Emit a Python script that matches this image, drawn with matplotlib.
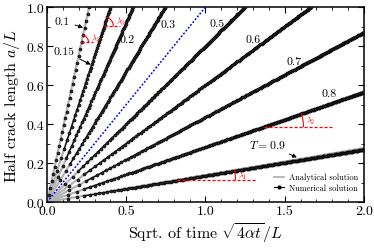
import numpy as np
import matplotlib
matplotlib.use("Agg")
import matplotlib.pyplot as plt
from matplotlib.ticker import MultipleLocator, FormatStrFormatter

plt.rcParams['font.family'] = 'serif'
plt.rcParams['font.serif'] = ['cmr10']
plt.rcParams['mathtext.fontset'] = 'cm'
plt.rcParams['axes.formatter.use_mathtext'] = True

# temperature ratios and growth slopes (a/L per sqrt(4 alpha t)/L)
T_vals = [0.1, 0.15, 0.2, 0.3, 0.5, 0.6, 0.7, 0.8, 0.9]
slope_analytical = [3.77, 2.50, 1.84, 1.34, 0.80, 0.60, 0.435, 0.282, 0.1385]
slope_numerical = [3.77, 2.50, 1.84, 1.34, 0.80, 0.60, 0.435, 0.282, 0.1345]
n_steps = [28, 40, 60, 80, 120, 150, 200, 222, 222]
blue_slope = 1.0

# label text and spot (data coords)
label_text = ['0.1', '0.15', '0.2', '0.3', '0.5', '0.6', '0.7', '0.8', '$T=0.9$']
label_xy = [(0.095, 0.928), (0.107, 0.774), (0.505, 0.836), (0.765, 0.913),
            (1.073, 0.918), (1.30, 0.836), (1.558, 0.723), (1.78, 0.559),
            (1.388, 0.297)]
arrow_tip = {0: (0.228, 0.895), 1: (0.276, 0.705), 8: (1.577, 0.229)}

# angle markers: which line, height of dashed line, dashed end, arc radius (px)
lam_names = [r'$\lambda_1$', r'$\lambda_2$', r'$\lambda_3$', r'$\lambda_4$']
lam_line = [8, 7, 1, 0]
lam_height = [0.114, 0.387, 0.903, 0.82]
lam_xend = [1.32, 1.80, 0.46, 0.29]
lam_radius = [58, 39, 9, 7]

fig = plt.figure(figsize=(3.74, 2.51), dpi=100)
ax = fig.add_axes([0.1257, 0.191, 0.8473, 0.777])
ax.set_xlim(0, 2)
ax.set_ylim(0, 1)

for i, T in enumerate(T_vals):
    xa = min(2.0, 1.0 / slope_analytical[i])
    ax.plot([0, xa], [0, slope_analytical[i] * xa], color='#b4b4b4', lw=1.6,
            solid_capstyle='butt', zorder=2)
    xn_max = min(2.0, 1.0 / slope_numerical[i])
    k = np.arange(1, n_steps[i] + 1) / n_steps[i]
    if i == 0:
        xn = xn_max * k
    else:
        xn = xn_max * np.sqrt(k)
    lw_num = 0 if i == 0 else 0.9
    ax.plot(xn[2:], slope_numerical[i] * xn[2:], color='black', lw=lw_num, zorder=3)
    ax.plot(xn, slope_numerical[i] * xn, ls='none', marker='o', ms=2.2,
            mfc='#2a2a2a', mec='black', mew=0.4, zorder=3)

ax.plot([0, 1.0 / blue_slope], [0, 1.0], color='blue', ls=(0, (1.2, 1.2)), lw=1.1, zorder=4)

for i, txt in enumerate(label_text):
    if i in arrow_tip:
        ax.annotate(txt, xy=arrow_tip[i], xytext=label_xy[i], fontsize=8.5,
                    ha='center', va='center',
                    arrowprops=dict(arrowstyle='-|>', color='black', lw=0.7,
                                    mutation_scale=6, shrinkA=2, shrinkB=0))
    else:
        ax.text(label_xy[i][0], label_xy[i][1], txt, fontsize=8.5,
                ha='center', va='center')

# red angle indicators
fig.canvas.draw()
p0 = ax.transData.transform((0, 0))
p1 = ax.transData.transform((1, 1))
sx, sy = p1[0] - p0[0], p1[1] - p0[1]
for j, name in enumerate(lam_names):
    lam = slope_analytical[lam_line[j]]
    y0 = lam_height[j]
    x0 = y0 / lam
    ax.plot([x0, lam_xend[j]], [y0, y0], color='red', ls=(0, (2.5, 1.5)), lw=0.9, zorder=5)
    ang = np.arctan(lam * sy / sx)
    phi = np.linspace(0, ang, 30)
    r = lam_radius[j]
    ax.plot(x0 + r * np.cos(phi) / sx, y0 + r * np.sin(phi) / sy, color='red', lw=0.8, zorder=5)
    ax.text(x0 + (r + 3) / sx, y0 + r * np.sin(ang / 2) / sy, name, color='red',
            fontsize=6, ha='left', va='center')

ax.plot([], [], color='#b4b4b4', lw=1.3, label='Analytical solution')
ax.plot([], [], color='black', lw=0.8, marker='o', ms=2, label='Numerical solution')
ax.legend(loc='lower right', bbox_to_anchor=(1.0, 0.02), frameon=False, fontsize=6,
          handlelength=1.2, handletextpad=0.6, labelspacing=0.3, borderpad=0.2)

ax.xaxis.set_major_locator(MultipleLocator(0.5))
ax.xaxis.set_minor_locator(MultipleLocator(0.1))
ax.yaxis.set_major_locator(MultipleLocator(0.2))
ax.yaxis.set_minor_locator(MultipleLocator(0.1))
ax.xaxis.set_major_formatter(FormatStrFormatter('%.1f'))
ax.yaxis.set_major_formatter(FormatStrFormatter('%.1f'))
ax.tick_params(which='both', direction='in', top=True, right=True, labelsize=10, pad=2)
ax.tick_params(which='major', length=4, width=0.8)
ax.tick_params(which='minor', length=2.5, width=0.6)
for s in ax.spines.values():
    s.set_linewidth(1.1)

ax.set_xlabel(r'Sqrt. of time $\sqrt{4\alpha t}/L$', fontsize=11.5, labelpad=2)
ax.set_ylabel(r'Half crack length $a/L$', fontsize=11.5, labelpad=3)

fig.savefig('out.png', dpi=100)
